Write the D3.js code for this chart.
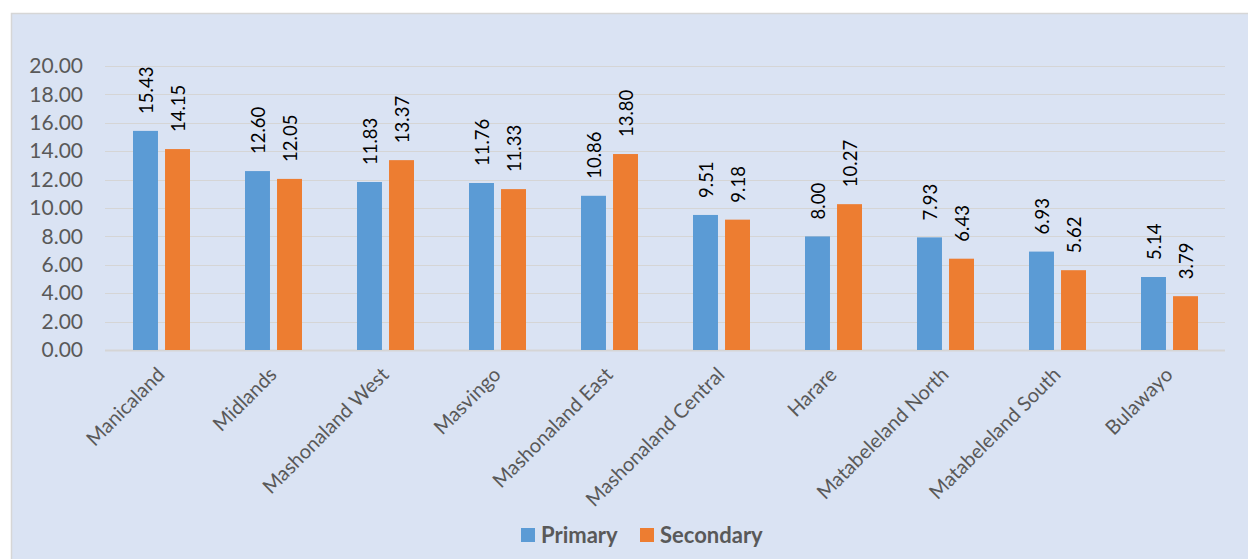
<!DOCTYPE html>
<html>
<head>
<meta charset="utf-8">
<script src="https://cdn.jsdelivr.net/npm/d3@7"></script>
<style>
    html, body { margin: 0; padding: 0; background: #ffffff; }
    svg text { font-family: Lato, "Open Sans", sans-serif; }
</style>
</head>
<body>
<div id="chart"></div>
<script>
"use strict";

const WIDTH = 1248;
const HEIGHT = 559;

const regions = [
    "Manicaland", "Midlands", "Mashonaland West", "Masvingo", "Mashonaland East",
    "Mashonaland Central", "Harare", "Matabeleland North", "Matabeleland South", "Bulawayo"
];
const primary = [15.43, 12.60, 11.83, 11.76, 10.86, 9.51, 8.00, 7.93, 6.93, 5.14];
const secondary = [14.15, 12.05, 13.37, 11.33, 13.80, 9.18, 10.27, 6.43, 5.62, 3.79];
const seriesNames = ["Primary", "Secondary"];
const seriesColors = ["#5b9bd5", "#ed7d31"];
const yTicks = [0, 2, 4, 6, 8, 10, 12, 14, 16, 18, 20];

const plot = { left: 105, right: 1225, top: 66, bottom: 350 };

const svg = d3.select("#chart")
    .append("svg")
    .attr("width", WIDTH)
    .attr("height", HEIGHT);

// Chart panel
svg.append("rect")
    .attr("x", 11.5)
    .attr("y", 13.5)
    .attr("width", WIDTH)
    .attr("height", HEIGHT)
    .attr("fill", "#dae3f3")
    .attr("stroke", "#d6d6d6")
    .attr("stroke-width", 1.5);

const x = d3.scaleBand()
    .domain(regions)
    .range([plot.left, plot.right]);

const inner = d3.scaleBand()
    .domain(seriesNames)
    .range([x.bandwidth() / 2 - 28, x.bandwidth() / 2 + 29])
    .paddingInner(0.22);

const y = d3.scaleLinear()
    .domain([0, 20])
    .range([plot.bottom, plot.top]);

// Gridlines
svg.append("g")
    .selectAll("line")
    .data(yTicks)
    .join("line")
    .attr("x1", plot.left)
    .attr("x2", plot.right)
    .attr("y1", d => Math.round(y(d)) + 0.5)
    .attr("y2", d => Math.round(y(d)) + 0.5)
    .attr("stroke", "#d5d5d5")
    .attr("stroke-width", d => (d === 0 ? 2 : 1.2));

// Y axis labels
const yAxis = svg.append("g")
    .attr("transform", `translate(${plot.left - 22},0)`)
    .call(d3.axisLeft(y).tickValues(yTicks).tickFormat(d3.format(".2f")).tickSize(0));
yAxis.select(".domain").remove();
yAxis.selectAll("text")
    .attr("fill", "#595959")
    .style("font-size", "21px")
    .attr("x", 0);

// Bars
const rows = regions.map((region, i) => ({
    region,
    values: [
        { series: seriesNames[0], value: primary[i] },
        { series: seriesNames[1], value: secondary[i] }
    ]
}));

const groups = svg.append("g")
    .selectAll("g")
    .data(rows)
    .join("g")
    .attr("transform", d => `translate(${x(d.region)},0)`);

groups.selectAll("rect")
    .data(d => d.values)
    .join("rect")
    .attr("x", d => inner(d.series))
    .attr("y", d => y(d.value))
    .attr("width", inner.bandwidth())
    .attr("height", d => y(0) - y(d.value))
    .attr("fill", (d, i) => seriesColors[i]);

// Data labels
groups.selectAll("text")
    .data(d => d.values)
    .join("text")
    .attr("transform", d =>
        `translate(${inner(d.series) + inner.bandwidth() / 2 + 1}, ${y(d.value) - 17}) rotate(-90)`
    )
    .attr("dy", "0.35em")
    .attr("fill", "#000000")
    .style("font-size", "18.5px")
    .text(d => d.value.toFixed(2));

// X axis labels
svg.append("g")
    .selectAll("text")
    .data(regions)
    .join("text")
    .attr("transform", d => `translate(${x(d) + x.bandwidth() / 2}, ${plot.bottom + 21}) rotate(-45)`)
    .attr("text-anchor", "end")
    .attr("dy", "0.35em")
    .attr("fill", "#595959")
    .style("font-size", "20px")
    .text(d => d);

// Legend
const legend = svg.append("g")
    .attr("transform", "translate(521, 528)");

const legendOffsets = [0, 119];
const items = legend.selectAll("g")
    .data(seriesNames)
    .join("g")
    .attr("transform", (d, i) => `translate(${legendOffsets[i]},0)`);

items.append("rect")
    .attr("width", 14)
    .attr("height", 14)
    .attr("fill", (d, i) => seriesColors[i]);

items.append("text")
    .attr("x", 20)
    .attr("y", 7)
    .attr("dy", "0.36em")
    .attr("fill", "#595959")
    .style("font-size", "22px")
    .style("font-weight", "bold")
    .text(d => d);
</script>
</body>
</html>
